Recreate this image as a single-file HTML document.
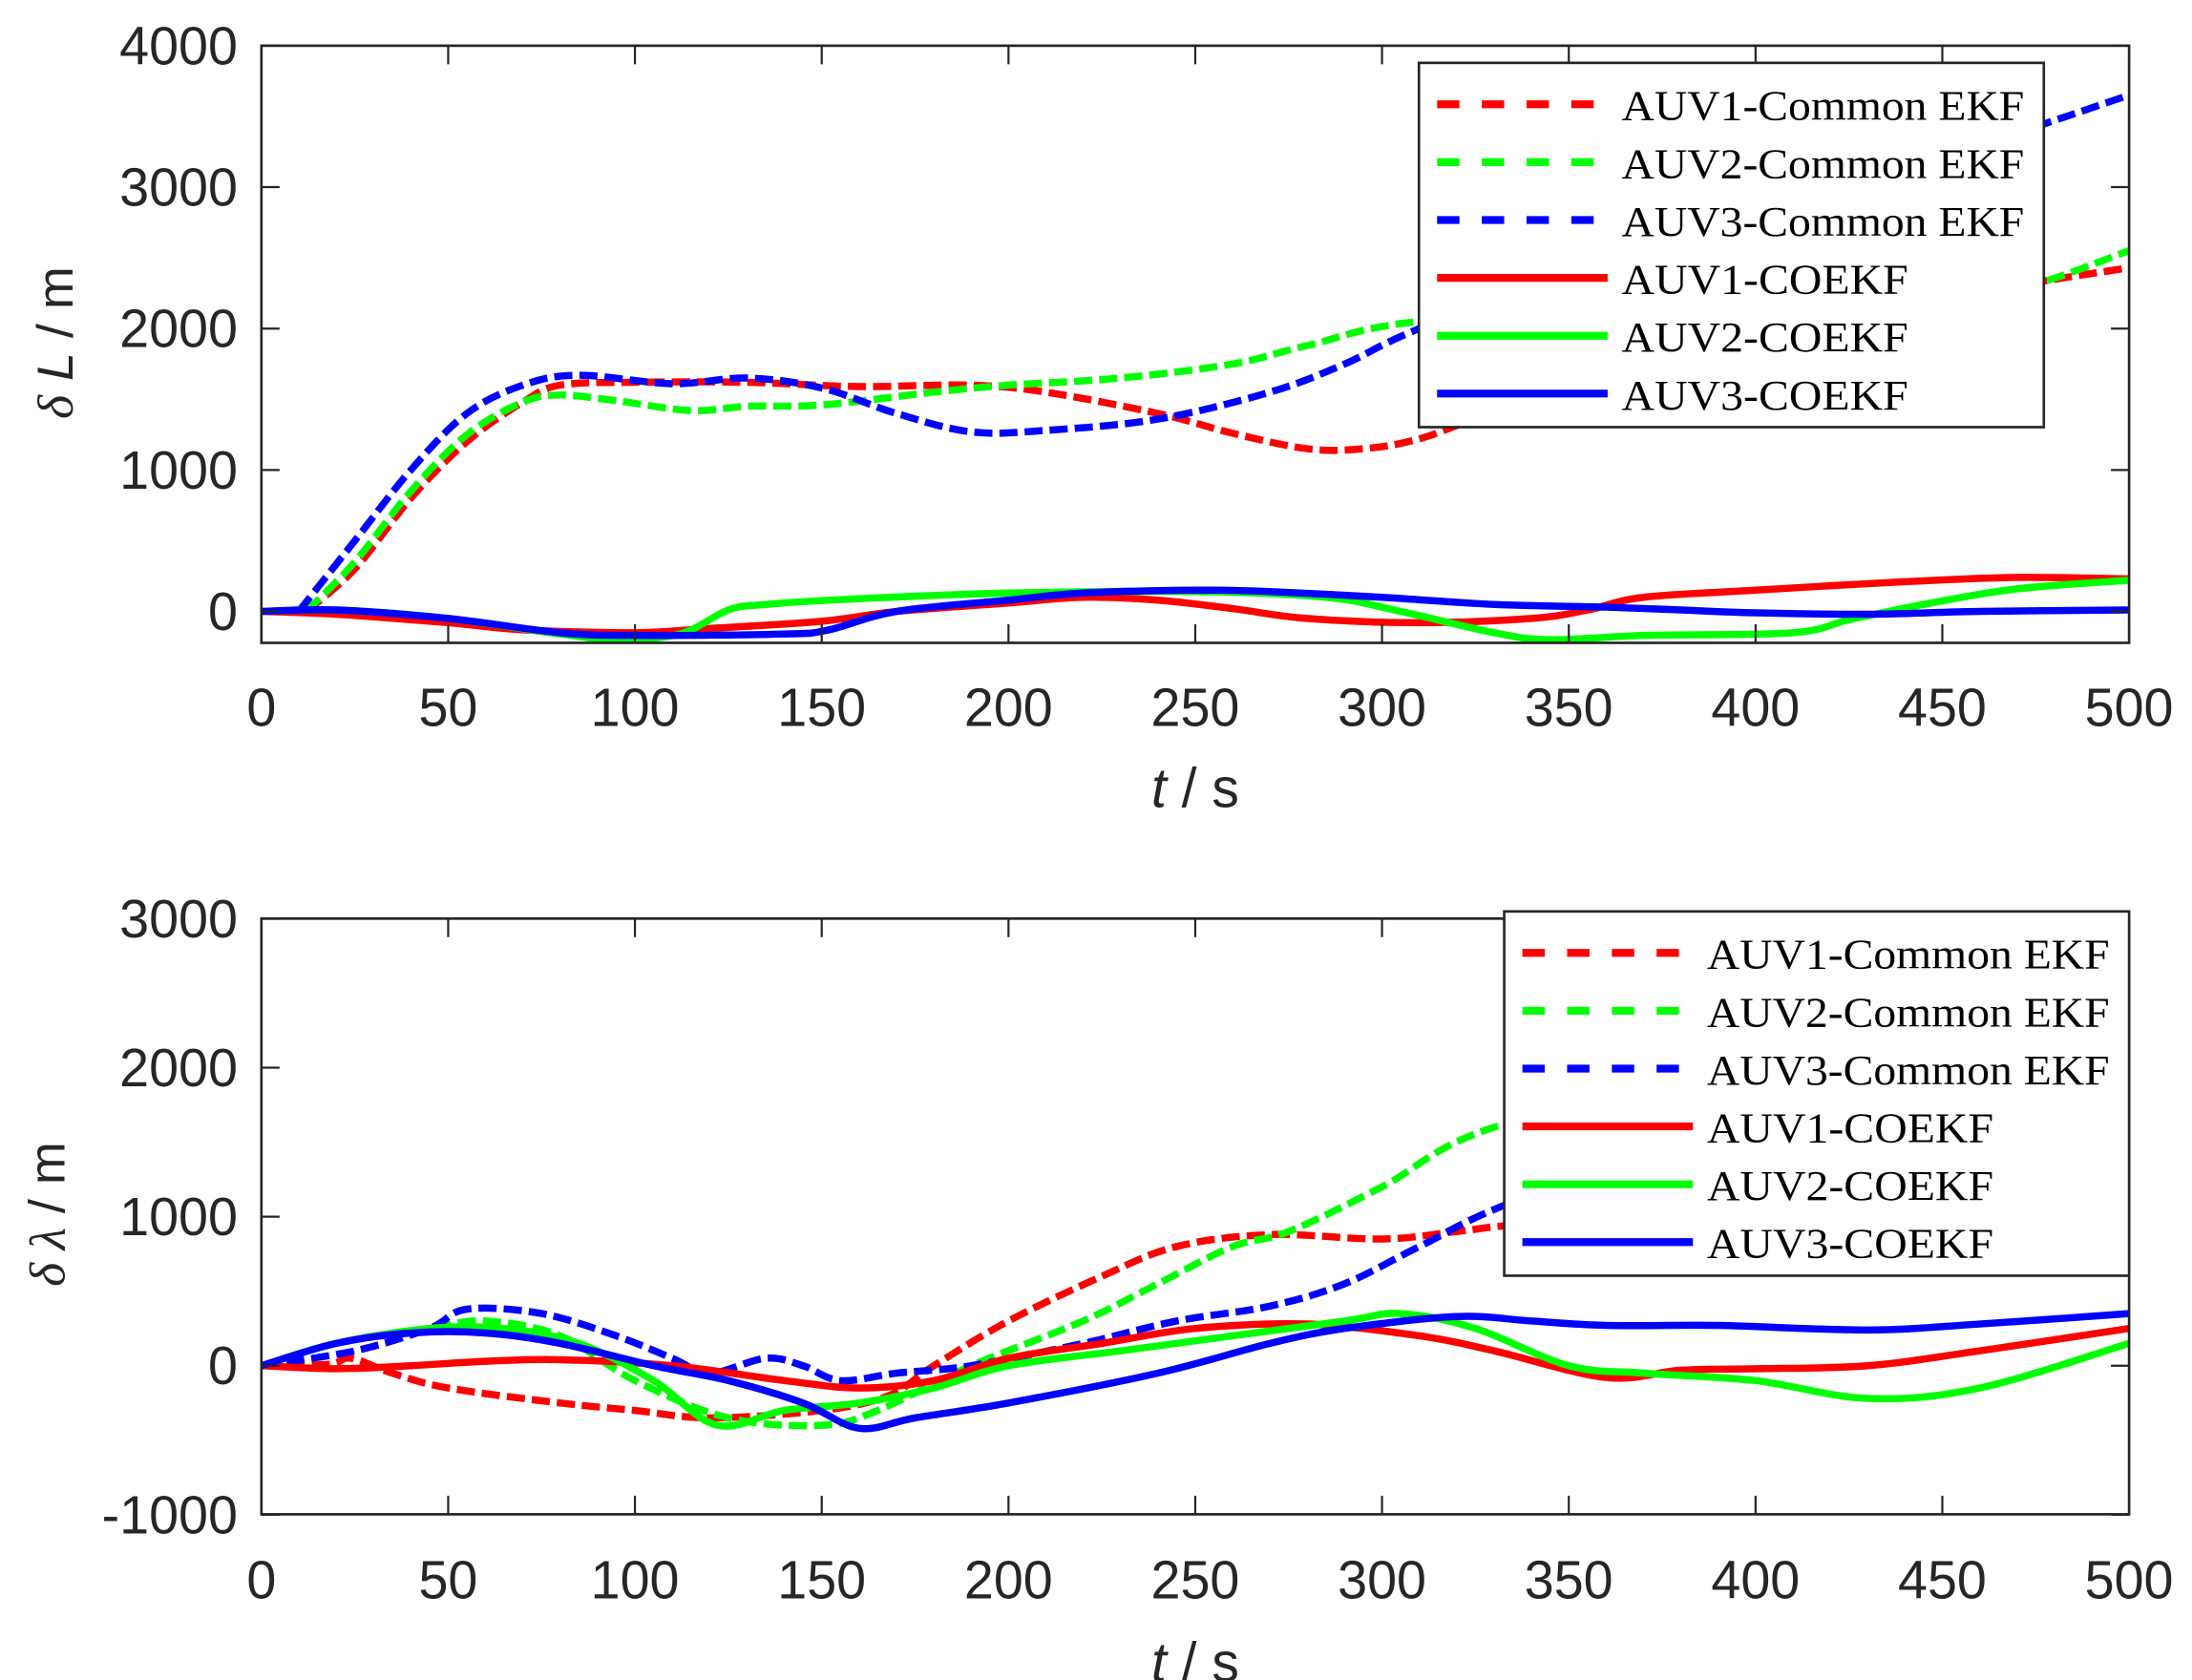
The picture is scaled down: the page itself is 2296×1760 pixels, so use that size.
<!DOCTYPE html>
<html><head><meta charset="utf-8"><style>
html,body{margin:0;padding:0;background:#fff;}
svg{display:block;}
</style></head><body>
<svg id="s" width="2296" height="1760" viewBox="0 0 1568 1176" preserveAspectRatio="none" xmlns="http://www.w3.org/2000/svg">
<rect width="1568" height="1176" fill="#fff"/>
<g id="plots"></g>
</svg>
<script>
const NS="http://www.w3.org/2000/svg";
const svg=document.getElementById('plots');
function el(t,a,txt){const e=document.createElementNS(NS,t);for(const k in a)e.setAttribute(k,a[k]);if(txt!==undefined)e.textContent=txt;svg.appendChild(e);return e;}
const X0=187,X1=1523;
function xp(t){return X0+(X1-X0)*t/500;}
function path(pts,fy){
  const P=pts.map(p=>[xp(p[0]),fy(p[1])]);
  let d="M"+P[0][0].toFixed(1)+","+P[0][1].toFixed(1);
  for(let i=0;i<P.length-1;i++){
    const p0=P[Math.max(0,i-1)],p1=P[i],p2=P[i+1],p3=P[Math.min(P.length-1,i+2)];
    const c1=[p1[0]+(p2[0]-p0[0])/6,p1[1]+(p2[1]-p0[1])/6];
    const c2=[p2[0]-(p3[0]-p1[0])/6,p2[1]-(p3[1]-p1[1])/6];
    d+=" C"+c1[0].toFixed(1)+","+c1[1].toFixed(1)+" "+c2[0].toFixed(1)+","+c2[1].toFixed(1)+" "+p2[0].toFixed(1)+","+p2[1].toFixed(1);
  }
  return d;
}
const R="#ff0000",G="#00ff00",B="#0000ff";
function axes(top,bot,yticks,fy,xlabY,tickLabY){
  el('rect',{x:X0,y:top,width:X1-X0,height:bot-top,fill:"none",stroke:"#262626","stroke-width":1.8});
  for(let t=0;t<=500;t+=50){const x=xp(t);
    el('line',{x1:x,y1:bot,x2:x,y2:bot-13,stroke:"#262626","stroke-width":1.5});
    el('line',{x1:x,y1:top,x2:x,y2:top+13,stroke:"#262626","stroke-width":1.5});
    el('text',{x:x,y:tickLabY,"font-family":"Liberation Sans, sans-serif","font-size":38,"text-anchor":"middle",fill:"#262626"},t);
  }
  for(const v of yticks){const y=fy(v);
    el('line',{x1:X0,y1:y,x2:X0+13,y2:y,stroke:"#262626","stroke-width":1.5});
    el('line',{x1:X1,y1:y,x2:X1-13,y2:y,stroke:"#262626","stroke-width":1.5});
    el('text',{x:170,y:y+13,"font-family":"Liberation Sans, sans-serif","font-size":38,"text-anchor":"end",fill:"#262626"},v);
  }
  const t=el('text',{x:855,y:xlabY,"font-family":"Liberation Sans, sans-serif","font-size":39,"text-anchor":"middle",fill:"#262626"});
  t.innerHTML='<tspan font-style="italic">t</tspan> / s';
}
function series(list,fy,top,bot,id){
  const cp=el('clipPath',{id:id});
  const r=document.createElementNS(NS,'rect');r.setAttribute('x',X0);r.setAttribute('y',top);r.setAttribute('width',X1-X0);r.setAttribute('height',bot-top);cp.appendChild(r);
  for(const s of list){
    const a={d:path(s.p,fy),fill:"none",stroke:s.c,"stroke-width":s.dash?5:5,"clip-path":"url(#"+id+")","stroke-linejoin":"round"};
    if(s.dash)a["stroke-dasharray"]="13 5";
    el('path',a);
  }
}
function legend(x,y,w,h,rows){
  el('rect',{x:x,y:y,width:w,height:h,fill:"#fff",stroke:"#262626","stroke-width":1.8});
  rows.forEach((r,i)=>{const yy=y+29+i*40.5;
    const a={x1:x+13,y1:yy,x2:x+135,y2:yy,stroke:r[1],"stroke-width":5.5};
    if(r[2])a["stroke-dasharray"]="16 16";
    el('line',a);
    el('text',{x:x+145,y:yy+11,"font-family":"Liberation Serif, serif","font-size":30,fill:"#000",textLength:r[0].length>12?288:205,lengthAdjust:"spacingAndGlyphs"},r[0]);
  });
}
const T0=32,T1=450;const fy1=v=>428-0.099*v;
series([
 {c:R,dash:1,p:[[12,0],[25,300],[40,800],[55,1200],[70,1480],[80,1600],[100,1620],[130,1620],[160,1590],[190,1600],[210,1550],[240,1400],[260,1260],[280,1150],[295,1150],[310,1220],[330,1400],[370,1650],[420,1950],[460,2250],[500,2430]]},
 {c:G,dash:1,p:[[12,0],[25,350],[40,850],[55,1250],[70,1480],[80,1530],[95,1490],[115,1420],[130,1450],[150,1460],[180,1550],[200,1600],[230,1650],[260,1750],[280,1880],[310,2050],[380,2150],[440,2200],[470,2280],[500,2550]]},
 {c:B,dash:1,p:[[10,0],[25,500],[40,1000],[55,1400],[70,1600],[85,1670],[110,1610],[130,1650],[150,1580],[170,1400],[190,1270],[210,1280],[240,1360],[270,1550],[290,1750],[310,2000],[360,2500],[420,3000],[460,3300],[500,3650]]},
 {c:R,p:[[0,0],[20,-20],[50,-80],[70,-130],[100,-150],[120,-120],[150,-70],[170,0],[200,60],[220,100],[240,80],[260,20],[280,-50],[310,-80],[340,-50],[355,10],[370,100],[400,150],[440,210],[470,240],[500,230]]},
 {c:G,p:[[0,0],[20,10],[50,-50],[80,-160],[95,-200],[112,-160],[125,10],[135,50],[160,90],[200,130],[250,140],[285,100],[305,0],[330,-150],[345,-200],[370,-170],[410,-150],[425,-60],[445,50],[470,160],[500,220]]},
 {c:B,p:[[0,0],[20,10],[50,-50],[80,-150],[100,-170],[140,-160],[152,-130],[170,0],[200,80],[220,130],[250,150],[270,140],[300,100],[330,50],[360,30],[380,10],[400,-10],[430,-20],[460,0],[500,10]]}
],fy1,T0,T1,"c1");
axes(T0,T1,[0,1000,2000,3000,4000],fy1,565,508);
legend(1015,44,447,255,[["AUV1-Common EKF",R,1],["AUV2-Common EKF",G,1],["AUV3-Common EKF",B,1],["AUV1-COEKF",R,0],["AUV2-COEKF",G,0],["AUV3-COEKF",B,0]]);
(function(){const t=el('text',{transform:"translate(52,240) rotate(-90)","font-family":"Liberation Sans, sans-serif","font-size":36,"text-anchor":"middle",fill:"#262626"});t.innerHTML='<tspan font-family="Liberation Serif, serif" font-style="italic">δ</tspan> <tspan font-style="italic">L</tspan> / m';})();
const B0=643,B1=1060;const fy2=v=>956-0.1043*v;
series([
 {c:R,dash:1,p:[[0,0],[18,10],[24,50],[35,-50],[50,-150],[80,-250],[100,-300],[120,-350],[150,-300],[168,-200],[180,0],[200,300],[225,600],[245,800],[270,880],[300,850],[320,900],[340,950],[400,1000],[500,1100]]},
 {c:G,dash:1,p:[[0,0],[20,150],[45,250],[60,300],[80,200],[100,-100],[125,-350],[150,-400],[165,-300],[190,0],[220,300],[240,550],[260,800],[275,900],[300,1200],[330,1600],[400,2000],[500,2550]]},
 {c:B,dash:1,p:[[0,0],[25,100],[45,250],[55,380],[75,350],[95,200],[110,50],[120,-50],[135,50],[145,0],[155,-100],[170,-50],[190,0],[220,150],[245,300],[270,400],[290,550],[310,800],[335,1100],[400,1700],[500,2600]]},
 {c:R,p:[[0,0],[20,-20],[40,0],[60,30],[80,40],[110,0],[140,-100],[160,-150],[180,-100],[200,50],[225,150],[250,250],[280,280],[310,200],[330,100],[360,-80],[380,-30],[400,-20],[430,0],[460,100],[500,250]]},
 {c:G,p:[[0,0],[20,150],[45,250],[65,250],[85,150],[105,-100],[122,-400],[140,-300],[160,-250],[180,-150],[200,0],[230,100],[260,200],[290,300],[305,350],[325,250],[350,0],[370,-50],[400,-100],[430,-220],[460,-150],[500,150]]},
 {c:B,p:[[0,0],[20,150],[40,220],[60,220],[80,150],[105,0],[125,-100],[145,-250],[160,-420],[175,-350],[200,-250],[240,-50],[270,150],[290,250],[320,330],[340,300],[360,270],[390,270],[430,240],[460,280],[500,350]]}
],fy2,B0,B1,"c2");
axes(B0,B1,[-1000,0,1000,2000,3000],fy2,1177,1119);
legend(1076,638,447,255,[["AUV1-Common EKF",R,1],["AUV2-Common EKF",G,1],["AUV3-Common EKF",B,1],["AUV1-COEKF",R,0],["AUV2-COEKF",G,0],["AUV3-COEKF",B,0]]);
(function(){const t=el('text',{transform:"translate(46,850) rotate(-90)","font-family":"Liberation Sans, sans-serif","font-size":36,"text-anchor":"middle",fill:"#262626"});t.innerHTML='<tspan font-family="Liberation Serif, serif" font-style="italic">δ λ</tspan>  / m';})();
</script>
</body></html>
